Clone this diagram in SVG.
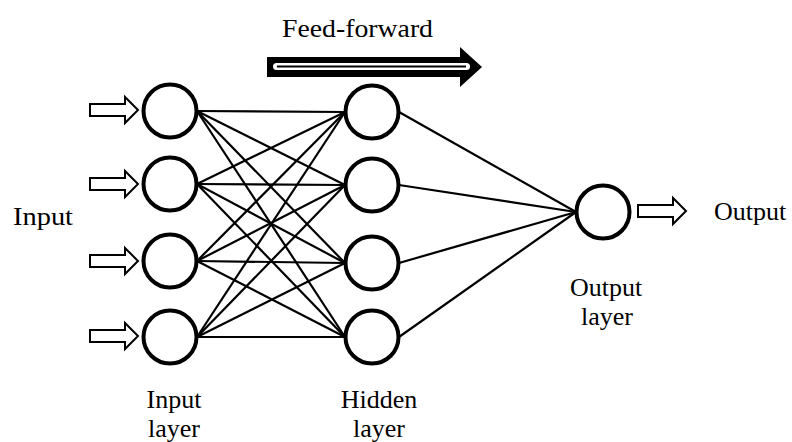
<svg xmlns="http://www.w3.org/2000/svg" width="792" height="442" viewBox="0 0 792 442">
  <defs>
    <!-- hollow block arrow pointing right, tip at (0,0) -->
    <path id="block-arrow" d="M-48,-6 H-13 V-13 L0,0 L-13,13 V6 H-48 Z"/>
  </defs>
  <style>
    .neuron { fill: #fff; stroke: #000; stroke-width: 4; }
    .link { stroke: #000; stroke-width: 2.2; fill: none; }
    .io-arrow { fill: #fff; stroke: #000; stroke-width: 2; stroke-linejoin: miter; }
    .label { font-family: "Liberation Serif", "Times New Roman", serif; font-size: 26px; fill: #000; }
    .mid { text-anchor: middle; }
  </style>
  <rect width="792" height="442" fill="#fff"/>

  <!-- connections -->
  <g id="connectors" class="link">
    <!-- input layer to hidden layer -->
    <line x1="197" y1="111" x2="345" y2="112"/>
    <line x1="197" y1="111" x2="345" y2="185"/>
    <line x1="197" y1="111" x2="345" y2="263"/>
    <line x1="197" y1="111" x2="345" y2="337"/>
    <line x1="197" y1="184" x2="345" y2="112"/>
    <line x1="197" y1="184" x2="345" y2="185"/>
    <line x1="197" y1="184" x2="345" y2="263"/>
    <line x1="197" y1="184" x2="345" y2="337"/>
    <line x1="197" y1="261" x2="345" y2="112"/>
    <line x1="197" y1="261" x2="345" y2="185"/>
    <line x1="197" y1="261" x2="345" y2="263"/>
    <line x1="197" y1="261" x2="345" y2="337"/>
    <line x1="197" y1="337" x2="345" y2="112"/>
    <line x1="197" y1="337" x2="345" y2="185"/>
    <line x1="197" y1="337" x2="345" y2="263"/>
    <line x1="197" y1="337" x2="345" y2="337"/>
    <!-- hidden layer to output -->
    <line x1="399" y1="112" x2="576" y2="212"/>
    <line x1="399" y1="185" x2="576" y2="212"/>
    <line x1="399" y1="263" x2="576" y2="212"/>
    <line x1="399" y1="337" x2="576" y2="212"/>
  </g>

  <!-- input arrows -->
  <g id="input-arrows" class="io-arrow">
    <use href="#block-arrow" x="138" y="110"/>
    <use href="#block-arrow" x="138" y="184"/>
    <use href="#block-arrow" x="138" y="261"/>
    <use href="#block-arrow" x="138" y="336"/>
  </g>

  <!-- output arrow -->
  <g id="output-arrow" class="io-arrow">
    <use href="#block-arrow" x="686" y="211"/>
  </g>

  <!-- input layer -->
  <g id="in1"><circle class="neuron" cx="170" cy="111" r="26.5"/></g>
  <g id="in2"><circle class="neuron" cx="170" cy="184" r="26.5"/></g>
  <g id="in3"><circle class="neuron" cx="170" cy="261" r="26.5"/></g>
  <g id="in4"><circle class="neuron" cx="170" cy="337" r="26.5"/></g>

  <!-- hidden layer -->
  <g id="h1"><circle class="neuron" cx="372" cy="112" r="26.5"/></g>
  <g id="h2"><circle class="neuron" cx="372" cy="185" r="26.5"/></g>
  <g id="h3"><circle class="neuron" cx="372" cy="263" r="26.5"/></g>
  <g id="h4"><circle class="neuron" cx="372" cy="337" r="26.5"/></g>

  <!-- output node -->
  <g id="out1"><circle class="neuron" cx="603" cy="212" r="26.5"/></g>

  <!-- feed-forward direction arrow -->
  <g id="feed-forward">
    <path d="M267,57 H460 V47 L482,67 L460,87 V77 H267 Z" fill="#000"/>
    <rect x="273" y="63" width="197" height="7" rx="3.5" fill="#fff"/>
    <line x1="277" y1="66.5" x2="466" y2="66.5" stroke="#000" stroke-width="2"/>
    <text class="label" x="282" y="37" font-size="28" textLength="151" lengthAdjust="spacingAndGlyphs">Feed-forward</text>
  </g>

  <!-- labels -->
  <g id="labels">
    <text class="label" x="13" y="225" font-size="28" textLength="60" lengthAdjust="spacingAndGlyphs">Input</text>
    <text class="label" x="714" y="220" font-size="28">Output</text>
    <text class="label mid" x="174" y="408">Input</text>
    <text class="label mid" x="174" y="437">layer</text>
    <text class="label mid" x="379" y="408">Hidden</text>
    <text class="label mid" x="379" y="437">layer</text>
    <text class="label mid" x="606" y="296">Output</text>
    <text class="label mid" x="607" y="325">layer</text>
  </g>
</svg>
